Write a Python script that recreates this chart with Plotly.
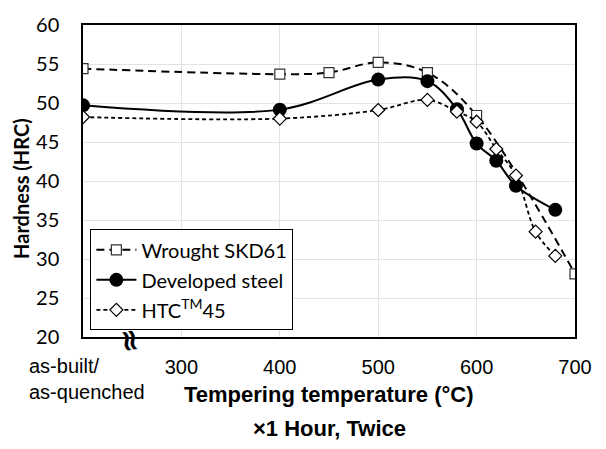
import plotly.graph_objects as go

# ---- data ----
skd_temp = [200, 400, 450, 500, 550, 600, 700]
skd_hrc = [54.4, 53.7, 53.9, 55.2, 53.9, 48.4, 28.1]

dev_temp = [200, 400, 500, 550, 580, 600, 620, 640, 680]
dev_hrc = [49.7, 49.15, 53.0, 52.8, 49.2, 44.8, 42.6, 39.4, 36.3]

htc_temp = [200, 400, 500, 550, 580, 600, 620, 640, 660, 680]
htc_hrc = [48.2, 48.0, 49.1, 50.4, 48.9, 47.6, 44.1, 40.7, 33.5, 30.4]

x_tickvals = [300, 400, 500, 600, 700]
x_ticktext = ["300", "400", "500", "600", "700"]
y_tickvals = [20, 25, 30, 35, 40, 45, 50, 55, 60]

CAL = "Lato, 'Open Sans', sans-serif"
ARI = "'Liberation Sans', Arial, sans-serif"

fig = go.Figure()
fig.add_trace(go.Scatter(
    x=skd_temp, y=skd_hrc, name="Wrought SKD61", mode="lines+markers",
    legendgroup="a",
    line=dict(color="black", width=2, dash="8px,5px", shape="spline"),
    marker=dict(symbol="square", size=10, color="white",
                line=dict(color="#333", width=1.2)),
))
fig.add_trace(go.Scatter(
    x=dev_temp, y=dev_hrc, name="Developed steel", mode="lines+markers",
    legendgroup="b",
    line=dict(color="black", width=2, shape="spline"),
    marker=dict(symbol="circle", size=14, color="black"),
))
fig.add_trace(go.Scatter(
    x=htc_temp, y=htc_hrc, name="HTC<sup>TM</sup>45", mode="lines+markers",
    legendgroup="c",
    line=dict(color="black", width=1.8, dash="4px,3px", shape="spline"),
    marker=dict(symbol="diamond", size=10, color="white",
                line=dict(color="black", width=1.2)),
))

fig.update_layout(
    width=606, height=449,
    margin=dict(l=83, r=31, t=13, b=112),
    paper_bgcolor="white", plot_bgcolor="white",
    showlegend=True,
    legend=dict(x=0.015, y=0.345, xanchor="left", yanchor="top",
                bgcolor="white", bordercolor="black", borderwidth=1,
                font=dict(family=CAL, size=20, color="black"),
                itemwidth=40, tracegroupgap=1, traceorder="grouped"),
    xaxis=dict(range=[200, 700], tickvals=x_tickvals, ticktext=x_ticktext,
               showgrid=True, gridcolor="#e3e3e3", gridwidth=1,
               showline=True, linecolor="black", linewidth=1.5, mirror=True,
               ticks="", ticklabelstandoff=11, zeroline=False,
               tickfont=dict(family=ARI, size=20, color="black")),
    yaxis=dict(range=[20, 60], tickvals=y_tickvals,
               showgrid=True, gridcolor="#e3e3e3", gridwidth=1,
               showline=True, linecolor="black", linewidth=1.5, mirror=True,
               ticks="", ticklabelstandoff=18, zeroline=False,
               tickfont=dict(family=CAL, size=20, color="black")),
    annotations=[
        dict(text="as-built/<br>as-quenched", xref="paper", yref="paper",
             x=0, y=0, xanchor="left", yanchor="top", xshift=-56, yshift=-16,
             align="left", showarrow=False,
             font=dict(family=ARI, size=20, color="black")),
        dict(text="<b>Tempering temperature (°C)</b>", xref="paper", yref="paper",
             x=0.5, y=-0.1834, xanchor="center", yanchor="middle", showarrow=False,
             font=dict(family=ARI, size=22, color="black")),
        dict(text="<b>×1 Hour, Twice</b>", xref="paper", yref="paper",
             x=0.5, y=-0.2947, xanchor="center", yanchor="middle", showarrow=False,
             font=dict(family=ARI, size=22, color="black")),
        dict(text="<b>Hardness (HRC)</b>", xref="paper", yref="paper",
             x=-0.1247, y=0.4768, xanchor="center", yanchor="middle",
             textangle=-90, showarrow=False,
             font=dict(family=CAL, size=20, color="black")),
        dict(text="<b>≈</b>", xref="x", yref="paper", x=249, y=0,
             xanchor="center", yanchor="middle", yshift=-3, textangle=80,
             showarrow=False, font=dict(family="DejaVu Sans", size=30, color="black")),
    ],
)

fig.write_html("out.html")
